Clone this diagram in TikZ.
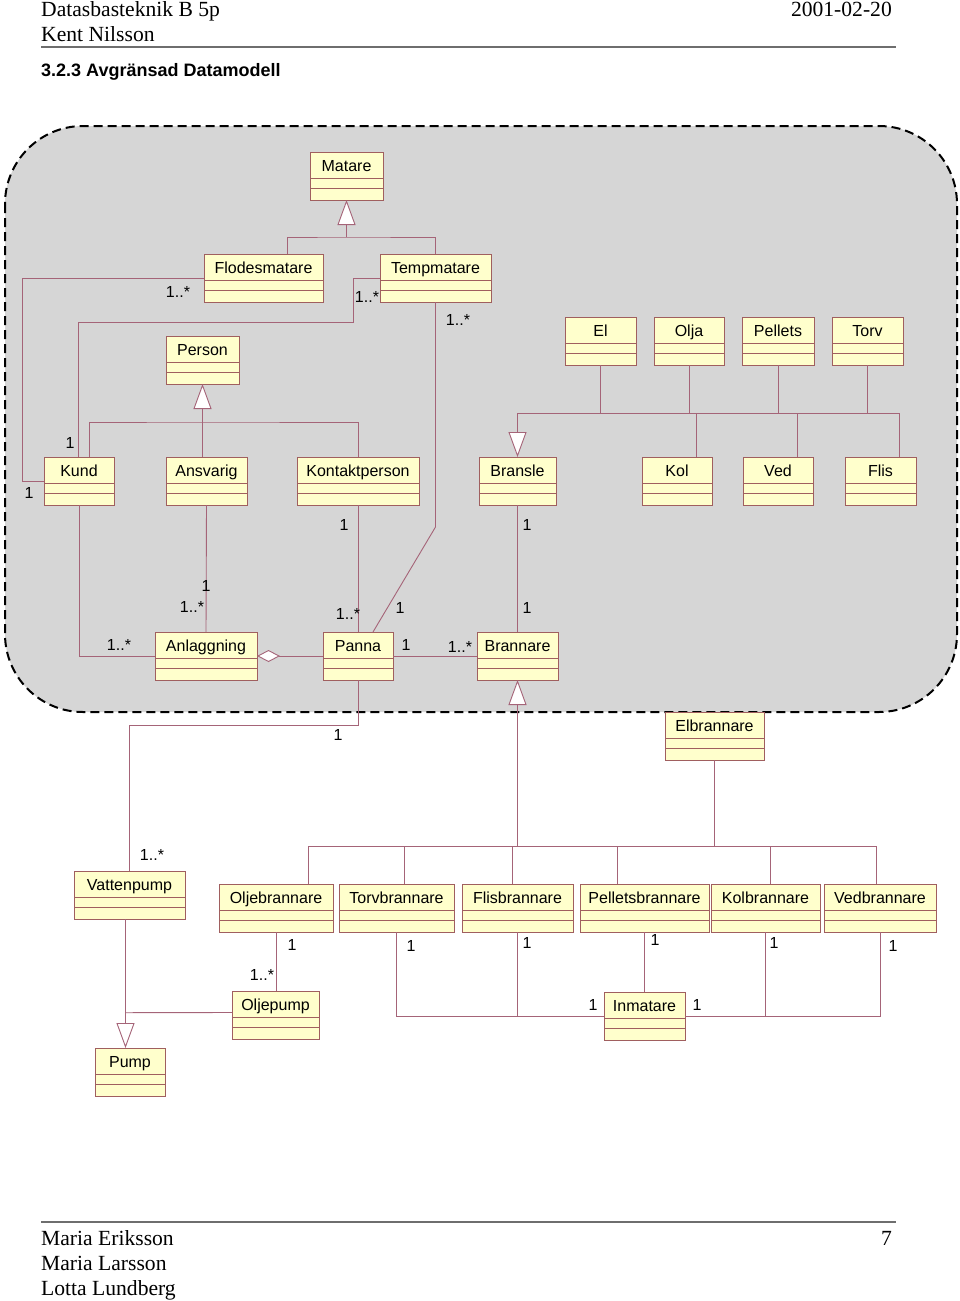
\documentclass[tikz,border=0pt]{standalone}
\usepackage{fontspec}
\setmainfont{Liberation Serif}
\newfontfamily\arialf{Liberation Sans}
\usetikzlibrary{arrows.meta}
\definecolor{clsfill}{RGB}{255,255,204}
\definecolor{clsdraw}{RGB}{160,95,95}
\definecolor{connc}{RGB}{165,100,120}
\definecolor{regionfill}{RGB}{214,214,214}
\definecolor{rulec}{RGB}{110,110,110}
\tikzset{
 clsbox/.style={draw=clsdraw, fill=clsfill, line width=0.9pt, minimum height=48pt, inner sep=0pt, outer sep=0pt, anchor=north west},
 clssep/.style={draw=clsdraw, line width=0.9pt},
 clstext/.style={font=\arialf\fontsize{16}{19}\selectfont, inner sep=0pt, text=black, anchor=base},
 mult/.style={font=\arialf\fontsize{16}{19}\selectfont, inner sep=0pt},
 conn/.style={draw=connc, line width=0.9pt},
 gen/.style={conn, -{Triangle[length=25pt,width=18pt,fill=white]}},
 agg/.style={conn, -{Diamond[length=23pt,width=12pt,fill=white]}},
 hdr/.style={font=\fontsize{21.6}{25}\selectfont, inner sep=0pt, anchor=base west},
}
\newcommand\umlc[5]{%
 \node[clsbox, minimum width=#4pt] (#1) at (#2,#3) {};
 \draw[clssep] ([yshift=-26pt]#1.north west) -- ([yshift=-26pt]#1.north east);
 \draw[clssep] ([yshift=-36pt]#1.north west) -- ([yshift=-36pt]#1.north east);
 \node[clstext] (#1-t) at ([yshift=-19.5pt]#1.north) {#5};
}
\begin{document}
\begin{tikzpicture}[x=1pt,y=-1pt]
\useasboundingbox (0,0) rectangle (960,1301);
% header
\node[hdr] (h1) at (41,16) {Datasbasteknik B 5p};
\node[hdr, anchor=base east] (h2) at (892,16) {2001-02-20};
\node[hdr] (h3) at (41,41) {Kent Nilsson};
\draw[rulec, line width=1.8pt] (41,47) -- (896,47);
\node[font=\arialf\bfseries\fontsize{18}{21}\selectfont, anchor=base west, inner sep=0pt] (ttl) at (41,76) {3.2.3 Avgränsad Datamodell};
% footer
\draw[rulec, line width=1.8pt] (41,1222) -- (896,1222);
\node[hdr] (f1) at (41,1245) {Maria Eriksson};
\node[hdr, anchor=base east] (f0) at (892,1245) {7};
\node[hdr] (f2) at (41,1270) {Maria Larsson};
\node[hdr] (f3) at (41,1295) {Lotta Lundberg};
% region
\draw[fill=regionfill, draw=black, line width=2pt, dash pattern=on 9pt off 5pt, rounded corners=78pt] (5,126) rectangle (957,712);
% classes
\umlc{Matare}{310}{152}{73}{Matare}
\umlc{Flodesmatare}{204}{254}{119}{Flodesmatare}
\umlc{Tempmatare}{380}{254}{111}{Tempmatare}
\umlc{Person}{166}{336}{73}{Person}
\umlc{El}{565}{317}{71}{El}
\umlc{Olja}{654}{317}{70}{Olja}
\umlc{Pellets}{742}{317}{72}{Pellets}
\umlc{Torv}{832}{317}{71}{Torv}
\umlc{Kund}{44}{457}{70}{Kund}
\umlc{Ansvarig}{166}{457}{81}{Ansvarig}
\umlc{Kontaktperson}{297}{457}{122}{Kontaktperson}
\umlc{Bransle}{479}{457}{77}{Bransle}
\umlc{Kol}{642}{457}{70}{Kol}
\umlc{Ved}{743}{457}{70}{Ved}
\umlc{Flis}{845}{457}{71}{Flis}
\umlc{Anlaggning}{155}{632}{102}{Anlaggning}
\umlc{Panna}{323}{632}{70}{Panna}
\umlc{Brannare}{477}{632}{81}{Brannare}
\umlc{Elbrannare}{665}{712}{99}{Elbrannare}
\umlc{Vattenpump}{74}{871}{111}{Vattenpump}
\umlc{Oljebrannare}{219}{884}{114}{Oljebrannare}
\umlc{Torvbrannare}{339}{884}{115}{Torvbrannare}
\umlc{Flisbrannare}{462}{884}{111}{Flisbrannare}
\umlc{Pelletsbrannare}{580}{884}{129}{Pelletsbrannare}
\umlc{Kolbrannare}{711}{884}{109}{Kolbrannare}
\umlc{Vedbrannare}{824}{884}{112}{Vedbrannare}
\umlc{Oljepump}{232}{991}{87}{Oljepump}
\umlc{Inmatare}{604}{992}{81}{Inmatare}
\umlc{Pump}{95}{1048}{70}{Pump}
% Matare generalization
\coordinate (mbar) at (346.5,237);
\draw[conn] ([xshift=23.5pt]Flodesmatare.north) |- (mbar) -| (Tempmatare.north);
\draw[gen] (mbar) -- (Matare.south);
% Flodesmatare - Kund
\draw[conn] (Flodesmatare.west) -| (22,481) -- (Kund.west);
% Tempmatare - Kund
\draw[conn] (Tempmatare.west) -| (353,322) -| ([xshift=-1pt]Kund.north);
% Tempmatare - Panna
\draw[conn] (Tempmatare.south) -- (435.5,527) -- ([xshift=15pt]Panna.north);
% Person generalization
\coordinate (pbar) at (202.5,422);
\draw[conn] ([xshift=10pt]Kund.north) |- (pbar) -| (Kontaktperson.north);
\draw[conn] (pbar |- Ansvarig.north) -- (pbar);
\draw[gen] (pbar) -- (Person.south);
% Bransle generalization
\coordinate (bbar) at (517.5,413);
\draw[conn] (El.south) |- (bbar);
\draw[conn] (Olja.south) |- (bbar);
\draw[conn] (Pellets.south) |- (bbar);
\draw[conn] (Torv.south) |- (bbar);
\draw[conn] ([xshift=19pt]Kol.north) |- (bbar);
\draw[conn] ([xshift=19pt]Ved.north) |- (bbar);
\draw[conn] ([xshift=19pt]Flis.north) |- (bbar);
\draw[gen] (bbar) -- (Bransle.north);
% associations around Anlaggning/Panna/Brannare
\draw[conn] (Kund.south) |- (Anlaggning.west);
\draw[conn] (Ansvarig.south) -- (Anlaggning.north);
\draw[conn] (Kontaktperson.south) -- (Panna.north);
\draw[agg] (Panna.west) -- (Anlaggning.east);
\draw[conn] (Panna.east) -- (Brannare.west);
\draw[conn] (Bransle.south) -- (Brannare.north);
% Panna - Vattenpump
\coordinate (pv) at (129.5,725);
\draw[conn] (Panna.south) |- (pv) -- (Vattenpump.north);
% Brannare generalization
\coordinate (rbar) at (517.5,846);
\draw[conn] (Elbrannare.south) |- (rbar);
\draw[conn] ([xshift=32pt]Oljebrannare.north) |- (rbar);
\draw[conn] ([xshift=7.5pt]Torvbrannare.north) |- (rbar);
\draw[conn] ([xshift=-5pt]Flisbrannare.north) |- (rbar);
\draw[conn] ([xshift=-27pt]Pelletsbrannare.north) |- (rbar);
\draw[conn] ([xshift=4.5pt]Kolbrannare.north) |- (rbar);
\draw[conn] ([xshift=-4pt]Vedbrannare.north) |- (rbar);
\draw[gen] (rbar) -- (Brannare.south);
% Oljebrannare - Oljepump
\draw[conn] (Oljebrannare.south) -- (Oljebrannare.south |- Oljepump.north);
% Pump generalization
\coordinate (pj) at (125.5,1012.7);
\draw[gen] ([xshift=-4pt]Vattenpump.south) -- ([xshift=-4.5pt]Pump.north);
\draw[conn] ([yshift=2.5pt]Oljepump.west) -- (pj);
% Inmatare
\draw[conn] (Torvbrannare.south) |- (Inmatare.west);
\draw[conn] (Flisbrannare.south) -- (Flisbrannare.south |- Inmatare.west);
\draw[conn] (Pelletsbrannare.south) -- (Inmatare.north);
\draw[conn] (Vedbrannare.south) |- (Inmatare.east);
\draw[conn] (Kolbrannare.south) -- (Kolbrannare.south |- Inmatare.east);
% multiplicities
\node[mult] (m1) at (178,292) {1..*};
\node[mult] (m2) at (367,297) {1..*};
\node[mult] (m3) at (458,320) {1..*};
\node[mult] (m4) at (70,443) {1};
\node[mult] (m5) at (29,493) {1};
\node[mult] (m6) at (344,525) {1};
\node[mult] (m7) at (527,525) {1};
\node[mult] (m8) at (206,586) {1};
\node[mult] (m9) at (192,607) {1..*};
\node[mult] (m10) at (348,614) {1..*};
\node[mult] (m11) at (400,608) {1};
\node[mult] (m12) at (527,608) {1};
\node[mult] (m13) at (119,645) {1..*};
\node[mult] (m14) at (406,645) {1};
\node[mult] (m15) at (460,647) {1..*};
\node[mult] (m16) at (338,735) {1};
\node[mult] (m17) at (152,855) {1..*};
\node[mult] (m18) at (292,945) {1};
\node[mult] (m19) at (411,946) {1};
\node[mult] (m20) at (527,943) {1};
\node[mult] (m21) at (655,940) {1};
\node[mult] (m22) at (774,943) {1};
\node[mult] (m23) at (893,946) {1};
\node[mult] (m24) at (262,975) {1..*};
\node[mult] (m25) at (593,1005) {1};
\node[mult] (m26) at (697,1005) {1};
\end{tikzpicture}
\end{document}
